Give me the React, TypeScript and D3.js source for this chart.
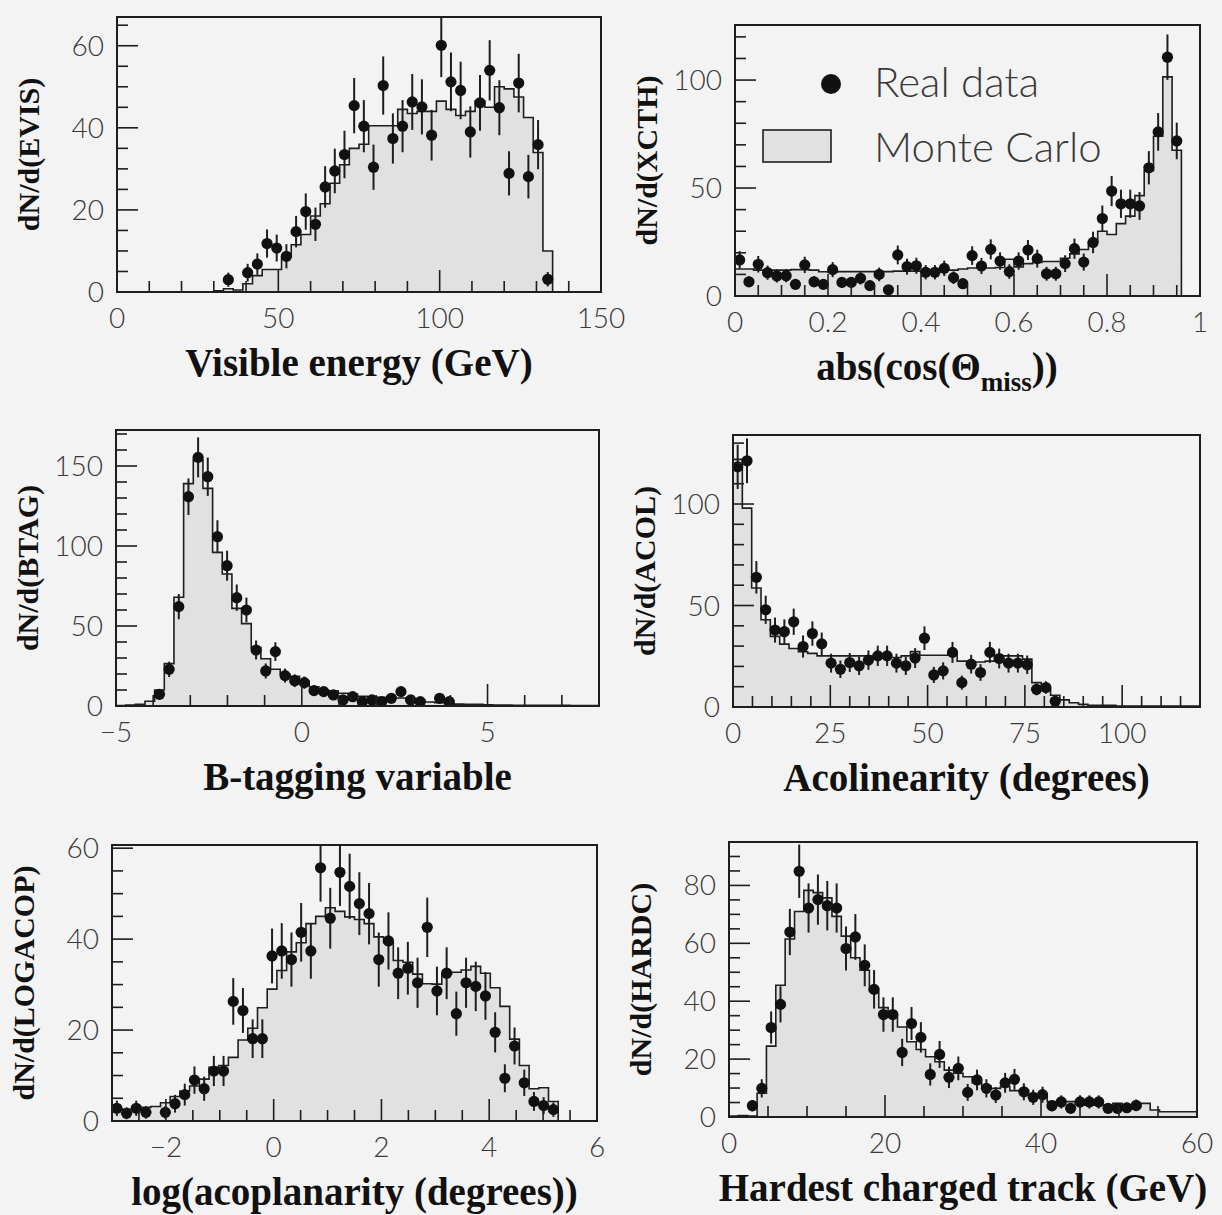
import React from "react";
import * as d3 from "d3";

const W = 1222;
const H = 1215;

// ---------- Panel 1: Visible energy (bins of 3 GeV from 0) ----------
const evisBinLo = 0;
const evisBinWidth = 3;
const evisMCStart = 10;
const evisMC = [0.3, 0.8, 0.5, 2.0, 4.0, 5.5, 5.5, 8.5, 11.5, 14.0, 18.5, 21.5, 26.5, 31.0, 35.0, 36.0, 40.5, 40.5, 40.5, 44.5, 43.5, 44.0, 44.0, 46.5, 44.5, 43.0, 44.0, 46.5, 45.0, 50.0, 49.5, 47.5, 42.5, 34.0, 10.0];
const evisDataStart = 11;
const evisData = [3.0, null, 4.7, 6.8, 11.8, 10.7, 8.7, 14.7, 19.6, 16.5, 25.6, 29.5, 33.5, 45.4, 40.4, 30.4, 50.3, 37.4, 40.4, 46.3, 45.1, 38.2, 60.1, 51.2, 49.1, 39.0, 46.1, 54.0, 44.9, 28.9, 50.9, 28.1, 35.9, 3.1];
const evisXTicks = [0, 50, 100, 150];
const evisYTicks = [0, 20, 40, 60];

// ---------- Panel 2: abs(cos theta_miss) (bins of 0.02 from 0) ----------
const xcthBinLo = 0;
const xcthBinWidth = 0.02;
const xcthMCStart = 0;
const xcthMC = [12.5, 12.5, 12.0, 12.0, 12.0, 12.0, 12.2, 12.2, 12.0, 11.2, 11.0, 11.3, 11.3, 11.3, 11.3, 11.3, 11.3, 11.5, 11.5, 11.5, 11.8, 11.8, 12.0, 12.0, 12.5, 13.0, 13.0, 13.0, 13.2, 17.0, 13.5, 15.0, 15.5, 16.0, 16.0, 17.5, 19.5, 21.5, 25.0, 30.0, 28.5, 33.5, 37.0, 46.5, 58.0, 74.0, 101.5, 67.5];
const xcthDataStart = 0;
const xcthData = [16.7, 6.6, 14.7, 10.8, 9.3, 9.4, 5.4, 14.4, 6.6, 5.4, 12.2, 6.3, 6.3, 8.2, 4.8, 10.0, 2.9, 19.0, 13.6, 14.0, 11.0, 11.0, 12.8, 8.5, 5.7, 18.7, 13.9, 21.6, 16.2, 11.3, 16.2, 21.3, 17.3, 10.3, 10.3, 15.0, 21.9, 15.7, 24.8, 35.9, 48.6, 42.7, 42.7, 41.7, 59.4, 76.0, 110.6, 71.8];
const xcthXTicks = [0, 0.2, 0.4, 0.6, 0.8, 1];
const xcthXTickLabels = ["0", "0.2", "0.4", "0.6", "0.8", "1"];
const xcthYTicks = [0, 50, 100];

// ---------- Panel 3: B-tagging variable (bins of 0.26 from -5) ----------
const btagBinLo = -5;
const btagBinWidth = 0.26;
const btagMCStart = 0;
const btagMC = [0.3, 0.6, 1.0, 3.0, 10.0, 26.5, 68.0, 139.0, 154.0, 136.0, 96.0, 82.5, 61.0, 51.5, 36.5, 29.5, 23.0, 20.0, 18.5, 15.5, 12.0, 10.0, 9.5, 8.0, 7.5, 6.0, 5.8, 5.5, 5.5, 5.0, 4.0, 3.5, 2.5, 2.0, 1.5, 1.2, 1.0, 1.0, 0.8, 0.6, 0.6, 0.5, 0.5, 0.5, 0.4, 0.4, 0.4, 0.3, 0.3, 0.3];
const btagDataStart = 4;
const btagData = [7.3, 22.9, 62.1, 130.8, 155.4, 143.3, 105.8, 87.7, 67.7, 60.0, 35.0, 21.9, 34.0, 19.0, 15.8, 14.6, 9.6, 9.0, 6.9, 3.8, 5.8, 2.7, 3.8, 2.7, 4.8, 9.0, 3.8, 2.7, null, 4.8, 2.7];
const btagXTicks = [-5, 0, 5];
const btagXTickLabels = ["\u22125", "0", "5"];
const btagYTicks = [0, 50, 100, 150];

// ---------- Panel 4: Acolinearity (bins of 2.4 deg from 0) ----------
const acolBinLo = 0;
const acolBinWidth = 2.4;
const acolMCStart = 0;
const acolMC = [122, 98, 58.6, 43, 34.8, 31, 28.8, 27.2, 26.4, 25.2, 25.2, 25.2, 25.2, 25.2, 25.2, 24.4, 24.4, 24.4, 25.2, 27.3, 25.5, 25.5, 25.5, 26.5, 22.6, 22.2, 22.2, 22.6, 25.2, 25.2, 25.2, 23.6, 12, 8.7, 5.8, 3.5, 2.1, 1.3, 0.8, 0.8, 0.8, 0.5, 0.5, 0.5, 0.5, 0.5, 0.5, 0.5, 0.5, 0.5];
const acolDataStart = 0;
const acolData = [118.3, 121.3, 63.9, 47.9, 37.9, 37.1, 42.0, 29.8, 36.2, 31.1, 21.6, 18.6, 21.9, 20.3, 23.1, 25.2, 25.2, 21.6, 20.3, 24.1, 33.9, 15.8, 17.8, 26.9, 12.0, 21.1, 17.0, 26.9, 23.9, 21.6, 21.6, 20.8, 8.7, 9.6, 2.8];
const acolXTicks = [0, 25, 50, 75, 100];
const acolYTicks = [0, 50, 100];

// ---------- Panel 5: log(acoplanarity) (bins of 0.18 from -3) ----------
const logaBinLo = -3;
const logaBinWidth = 0.18;
const logaMCStart = 0;
const logaMC = [2.8, 2.6, 2.6, 3.0, 3.2, 4.0, 5.4, 6.6, 7.7, 9.2, 11.8, 12.2, 14.0, 17.8, 20.4, 24.9, 29.0, 33.1, 37.2, 39.2, 43.4, 45.0, 46.9, 46.1, 44.9, 44.3, 43.4, 40.5, 39.2, 35.3, 34.9, 32.3, 30.2, 30.1, 32.3, 32.7, 33.2, 34.0, 32.5, 29.3, 25.2, 18.0, 12.2, 7.1, 7.3, 4.3];
const logaDataStart = 0;
const logaData = [2.8, 1.7, 2.8, 1.9, null, 1.9, 3.8, 5.8, 9.0, 7.1, 11.0, 11.0, 26.3, 24.3, 18.1, 18.1, 36.3, 37.4, 35.5, 41.5, 37.4, 55.7, 44.6, 54.7, 51.6, 47.8, 45.6, 35.5, 39.6, 32.5, 33.6, 30.4, 42.6, 28.6, 32.5, 23.6, 30.4, 29.6, 27.5, 19.5, 9.4, 16.5, 8.4, 4.3, 3.4, 2.5];
const logaXTicks = [-2, 0, 2, 4, 6];
const logaXTickLabels = ["\u22122", "0", "2", "4", "6"];
const logaYTicks = [0, 20, 40, 60];

// ---------- Panel 6: Hardest charged track (bins of 1.2 GeV from 0) ----------
const hardBinLo = 0;
const hardBinWidth = 1.2;
const hardMCStart = 0;
const hardMC = [0.3, 0.5, 0.3, 8.2, 24.5, 45.5, 61.5, 71, 78.3, 77.5, 75.7, 69.3, 62.5, 55, 50.7, 43.4, 37.8, 35.2, 31.1, 26, 23.3, 20.8, 19.1, 16.2, 15.1, 13.9, 11.8, 10.7, 9.9, 10.5, 9.1, 9.1, 7, 7, 5.3, 5.3, 5.3, 4.7, 4.1, 4.1, 4.1, 4.7, 4.1, 3.6, 4.7, 2.4, 1.8, 1.8, 1.8, 1.8];
const hardDataStart = 2;
const hardData = [3.9, 9.9, 30.9, 38.9, 63.9, 84.9, 72.2, 75.1, 73.0, 72.2, 58.2, 62.2, 52.4, 44.1, 35.4, 35.4, 22.3, 32.3, 27.5, 14.7, 21.6, 13.7, 16.8, 8.5, 12.8, 9.9, 7.6, 11.8, 13.0, 8.7, 6.8, 7.7, 3.9, 5.2, 3.0, 5.2, 5.2, 5.2, 3.0, 3.0, 3.2, 4.0];
const hardXTicks = [0, 20, 40, 60];
const hardYTicks = [0, 20, 40, 60, 80];

const legendLabels = ["Real data", "Monte Carlo"];

// ---------- Styling ----------
const BG = "#f3f3f3";
const INK = "#1e1e1e";
const FILL = "#e1e1e1";
const TICK_FONT = "Lato, 'Open Sans', 'DejaVu Sans', sans-serif";
const TITLE_FONT = "'Liberation Serif', 'Times New Roman', serif";

type PanelSpec = {
  id: string;
  box: { left: number; top: number; right: number; bottom: number };
  xDomain: [number, number];
  yDomain: [number, number];
  binLo: number;
  binWidth: number;
  mc: number[];
  mcStart: number;
  data: (number | null)[];
  dataStart: number;
  xTicks: number[];
  xTickLabels?: string[];
  xMinor: number;
  yTicks: number[];
  yMinor: number;
  yTitle: string;
  xTitle: React.ReactNode;
  xTitleX?: number;
};

const panels: PanelSpec[] = [
  {
    id: "evis",
    box: { left: 117, top: 17, right: 601, bottom: 292 },
    xDomain: [0, 150],
    yDomain: [0, 67],
    binLo: evisBinLo, binWidth: evisBinWidth, mc: evisMC, mcStart: evisMCStart,
    data: evisData, dataStart: evisDataStart,
    xTicks: evisXTicks, xMinor: 10, yTicks: evisYTicks, yMinor: 5,
    yTitle: "dN/d(EVIS)",
    xTitle: "Visible energy (GeV)",
  },
  {
    id: "xcth",
    box: { left: 735, top: 25, right: 1200, bottom: 296 },
    xDomain: [0, 1],
    yDomain: [0, 125.5],
    binLo: xcthBinLo, binWidth: xcthBinWidth, mc: xcthMC, mcStart: xcthMCStart,
    data: xcthData, dataStart: xcthDataStart,
    xTicks: xcthXTicks, xTickLabels: xcthXTickLabels, xMinor: 0.05, yTicks: xcthYTicks, yMinor: 10,
    yTitle: "dN/d(XCTH)",
    xTitle: (
      <>
        abs(cos(Θ
        <tspan dy={11} fontSize={27}>miss</tspan>
        <tspan dy={-11}>))</tspan>
      </>
    ),
    xTitleX: 937,
  },
  {
    id: "btag",
    box: { left: 116, top: 430, right: 599, bottom: 706 },
    xDomain: [-5, 8],
    yDomain: [0, 172.5],
    binLo: btagBinLo, binWidth: btagBinWidth, mc: btagMC, mcStart: btagMCStart,
    data: btagData, dataStart: btagDataStart,
    xTicks: btagXTicks, xTickLabels: btagXTickLabels, xMinor: 1, yTicks: btagYTicks, yMinor: 10,
    yTitle: "dN/d(BTAG)",
    xTitle: "B-tagging variable",
  },
  {
    id: "acol",
    box: { left: 733, top: 435, right: 1200, bottom: 707 },
    xDomain: [0, 120],
    yDomain: [0, 134],
    binLo: acolBinLo, binWidth: acolBinWidth, mc: acolMC, mcStart: acolMCStart,
    data: acolData, dataStart: acolDataStart,
    xTicks: acolXTicks, xMinor: 5, yTicks: acolYTicks, yMinor: 10,
    yTitle: "dN/d(ACOL)",
    xTitle: "Acolinearity (degrees)",
  },
  {
    id: "loga",
    box: { left: 112, top: 845, right: 597, bottom: 1121 },
    xDomain: [-3, 6],
    yDomain: [0, 60.7],
    binLo: logaBinLo, binWidth: logaBinWidth, mc: logaMC, mcStart: logaMCStart,
    data: logaData, dataStart: logaDataStart,
    xTicks: logaXTicks, xTickLabels: logaXTickLabels, xMinor: 0.5, yTicks: logaYTicks, yMinor: 5,
    yTitle: "dN/d(LOGACOP)",
    xTitle: "log(acoplanarity (degrees))",
  },
  {
    id: "hard",
    box: { left: 729, top: 842, right: 1197, bottom: 1117 },
    xDomain: [0, 60],
    yDomain: [0, 95],
    binLo: hardBinLo, binWidth: hardBinWidth, mc: hardMC, mcStart: hardMCStart,
    data: hardData, dataStart: hardDataStart,
    xTicks: hardXTicks, xMinor: 5, yTicks: hardYTicks, yMinor: 5,
    yTitle: "dN/d(HARDC)",
    xTitle: "Hardest charged track (GeV)",
  },
];

function minorTicks(domain: [number, number], step: number, majors: number[]) {
  const out: number[] = [];
  const start = Math.ceil(domain[0] / step - 1e-6) * step;
  for (let v = start; v <= domain[1] + 1e-6; v += step) {
    const vv = Math.round(v * 1e6) / 1e6;
    if (majors.some((m) => Math.abs(m - vv) < 1e-6)) continue;
    if (Math.abs(vv - domain[0]) < 1e-6 || Math.abs(vv - domain[1]) < 1e-6) continue;
    out.push(vv);
  }
  return out;
}

function Panel({ p }: { p: PanelSpec }) {
  const { left, top, right, bottom } = p.box;
  const x = d3.scaleLinear().domain(p.xDomain).range([left, right]);
  const y = d3.scaleLinear().domain(p.yDomain).range([bottom, top]);
  const edge = (i: number) => p.binLo + i * p.binWidth;

  // Monte Carlo step histogram
  const pts: [number, number][] = [];
  pts.push([x(edge(p.mcStart)), y(0)]);
  p.mc.forEach((v, j) => {
    const i = p.mcStart + j;
    pts.push([x(edge(i)), y(v)]);
    pts.push([x(edge(i + 1)), y(v)]);
  });
  pts.push([x(edge(p.mcStart + p.mc.length)), y(0)]);
  const mcPath = d3.line()(pts) || "";

  const clipId = `clip-${p.id}`;
  const xMinors = minorTicks(p.xDomain, p.xMinor, p.xTicks);
  const yMinors = minorTicks(p.yDomain, p.yMinor, p.yTicks);
  const cy = (top + bottom) / 2;
  const cx = p.xTitleX ?? (left + right) / 2;

  return (
    <g>
      <defs>
        <clipPath id={clipId}>
          <rect x={left} y={top} width={right - left} height={bottom - top} />
        </clipPath>
      </defs>
      <g clipPath={`url(#${clipId})`}>
        <path d={mcPath} fill={FILL} stroke={INK} strokeWidth={1.6} strokeLinejoin="miter" />
        {p.data.map((v, j) => {
          if (v == null) return null;
          const i = p.dataStart + j;
          const cxp = x(edge(i) + p.binWidth / 2);
          const err = Math.sqrt(v);
          return (
            <g key={j}>
              <line x1={cxp} x2={cxp} y1={y(v + err)} y2={y(Math.max(0, v - err))} stroke={INK} strokeWidth={2} />
              <circle cx={cxp} cy={y(v)} r={5.6} fill="#111" />
            </g>
          );
        })}
      </g>
      {/* ticks */}
      {p.xTicks.map((t) => (
        <line key={`xM${t}`} x1={x(t)} x2={x(t)} y1={bottom} y2={bottom - 22} stroke={INK} strokeWidth={1.6} />
      ))}
      {xMinors.map((t) => (
        <line key={`xm${t}`} x1={x(t)} x2={x(t)} y1={bottom} y2={bottom - 11} stroke={INK} strokeWidth={1.6} />
      ))}
      {p.yTicks.map((t) => (
        <line key={`yM${t}`} x1={left} x2={left + 21} y1={y(t)} y2={y(t)} stroke={INK} strokeWidth={1.6} />
      ))}
      {yMinors.map((t) => (
        <line key={`ym${t}`} x1={left} x2={left + 11} y1={y(t)} y2={y(t)} stroke={INK} strokeWidth={1.6} />
      ))}
      <rect x={left} y={top} width={right - left} height={bottom - top} fill="none" stroke={INK} strokeWidth={2} />
      {/* tick labels */}
      {p.xTicks.map((t, k) => (
        <text key={`xl${t}`} x={x(t)} y={bottom + 36} textAnchor="middle" fontFamily={TICK_FONT} fontWeight={300} fontSize={28} fill="#3a3a3a">
          {p.xTickLabels ? p.xTickLabels[k] : String(t)}
        </text>
      ))}
      {p.yTicks.map((t) => (
        <text key={`yl${t}`} x={left - 13} y={y(t) + 10} textAnchor="end" fontFamily={TICK_FONT} fontWeight={300} fontSize={28} fill="#3a3a3a">
          {String(t)}
        </text>
      ))}
      {/* titles */}
      <text transform={`translate(${left - 78},${cy}) rotate(-90)`} textAnchor="middle" fontFamily={TITLE_FONT} fontWeight="bold" fontSize={30} fill="#111">
        {p.yTitle}
      </text>
      <text x={cx} y={bottom + 84} textAnchor="middle" fontFamily={TITLE_FONT} fontWeight="bold" fontSize={39} fill="#111">
        {p.xTitle}
      </text>
    </g>
  );
}

function Legend() {
  return (
    <g>
      <circle cx={831} cy={84} r={10} fill="#111" />
      <text x={874} y={97} fontFamily={TICK_FONT} fontWeight={300} fontSize={42} fill="#3a3a3a">
        {legendLabels[0]}
      </text>
      <rect x={763} y={130} width={68} height={32} fill={FILL} stroke={INK} strokeWidth={1.6} />
      <text x={874} y={162} fontFamily={TICK_FONT} fontWeight={300} fontSize={42} fill="#3a3a3a">
        {legendLabels[1]}
      </text>
    </g>
  );
}

export default function App() {
  return (
    <svg
      width={W}
      height={H}
      viewBox={`0 0 ${W} ${H}`}
      style={{ position: "absolute", left: 0, top: 0, display: "block" }}
    >
      <rect x={0} y={0} width={W} height={H} fill={BG} />
      {panels.map((p) => (
        <Panel key={p.id} p={p} />
      ))}
      <Legend />
    </svg>
  );
}
